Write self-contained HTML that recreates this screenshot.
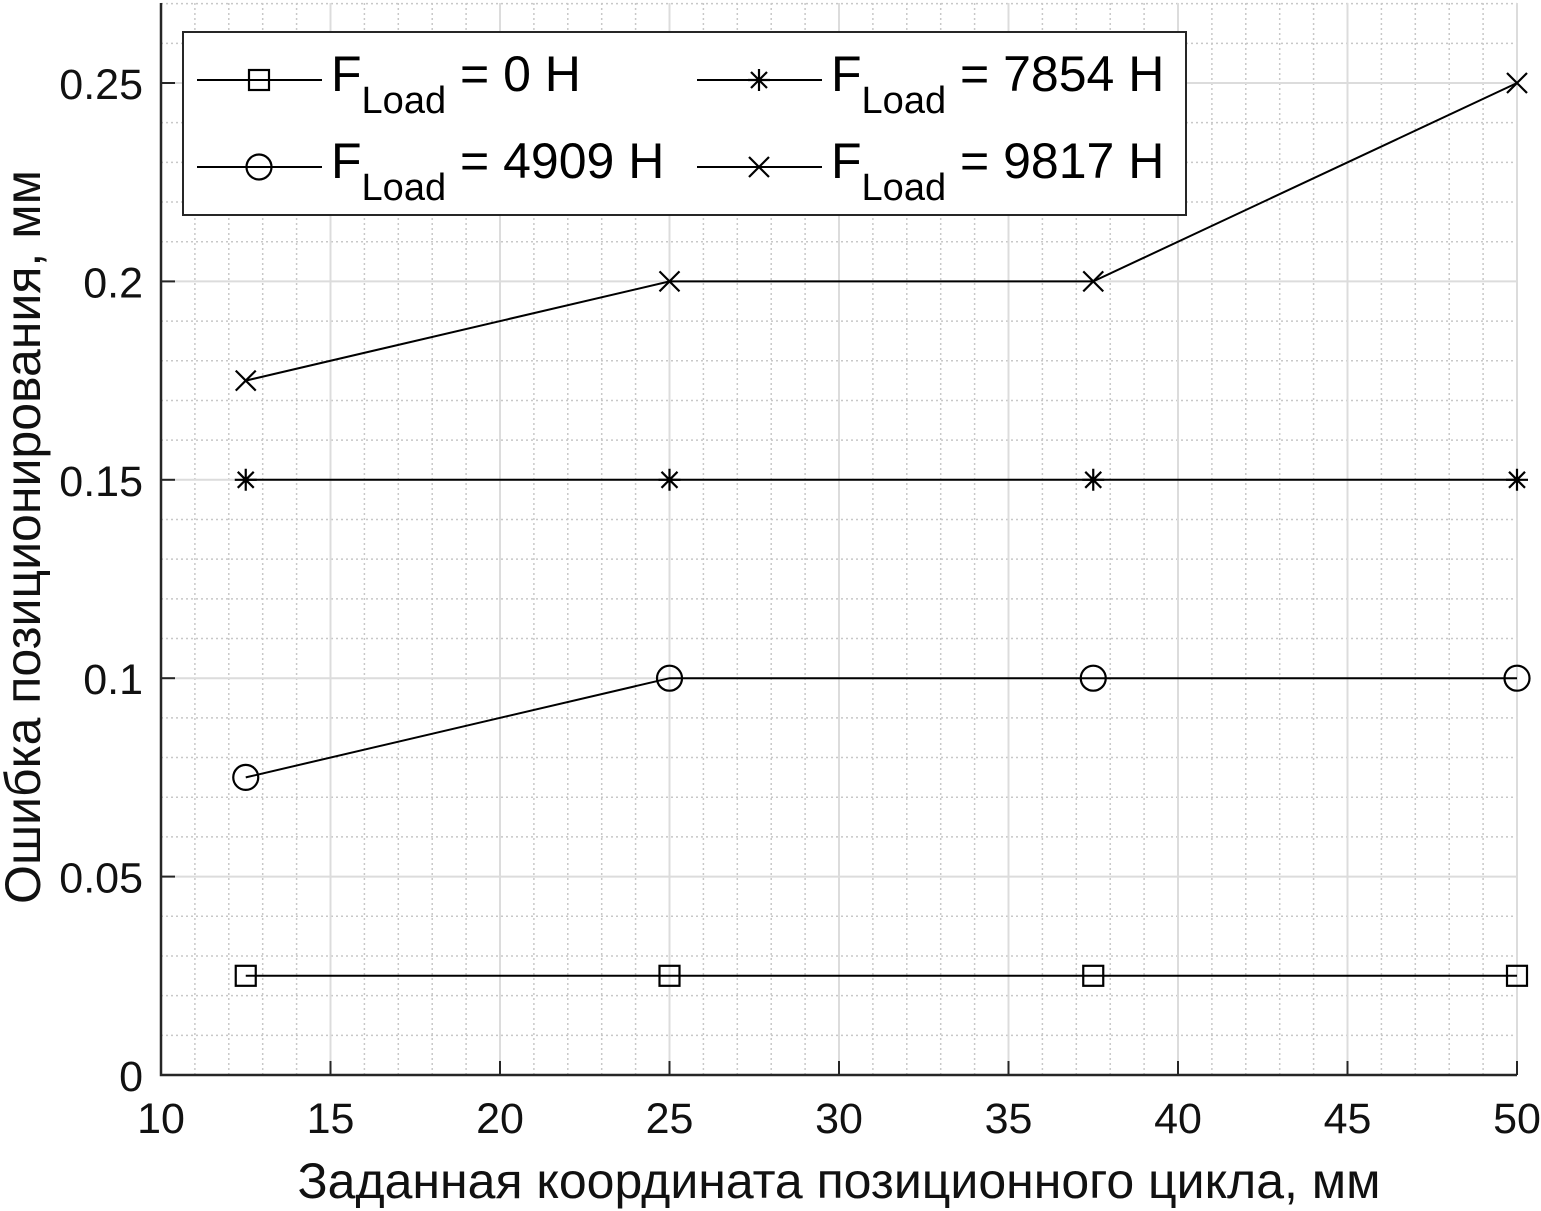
<!DOCTYPE html>
<html><head><meta charset="utf-8"><style>
html,body{margin:0;padding:0;background:#fff;}
svg{display:block;font-family:"Liberation Sans",Arial,sans-serif;}
</style></head><body>
<svg id="chart" width="1541" height="1211" viewBox="0 0 1541 1211">
<g id="grid"></g>
<g id="axes"></g>
<g id="series"></g>
<g id="legend"></g>
<text x="839" y="1198" font-size="50" text-anchor="middle" fill="#111">Заданная координата позиционного цикла, мм</text>
<text transform="translate(40,537) rotate(-90)" font-size="50" text-anchor="middle" fill="#111">Ошибка позиционирования, мм</text>
</svg>
<script>
const xValues = [12.5, 25, 37.5, 50];
const s0 = [0.025, 0.025, 0.025, 0.025];
const s4909 = [0.075, 0.1, 0.1, 0.1];
const s7854 = [0.15, 0.15, 0.15, 0.15];
const s9817 = [0.175, 0.2, 0.2, 0.25];
const xTicks = [10, 15, 20, 25, 30, 35, 40, 45, 50];
const yTicks = [0, 0.05, 0.1, 0.15, 0.2, 0.25];
const yTickLabels = ["0", "0.05", "0.1", "0.15", "0.2", "0.25"];
const legendLabels = ["0 H", "7854 H", "4909 H", "9817 H"];

const NS = "http://www.w3.org/2000/svg";
const X0 = 161, X1 = 1517, Y0 = 1075, YTOP = 3;
const xMin = 10, xMax = 50, yMin = 0, yMax = 0.27;
const sx = v => X0 + (v - xMin) / (xMax - xMin) * (X1 - X0);
const sy = v => Y0 - (v - yMin) / 0.25 * (Y0 - 83);
function mk(tag, attrs, parent) {
  const e = document.createElementNS(NS, tag);
  for (const k in attrs) e.setAttribute(k, attrs[k]);
  parent.appendChild(e);
  return e;
}
const grid = document.getElementById('grid');
const axes = document.getElementById('axes');
const series = document.getElementById('series');
const legend = document.getElementById('legend');

for (let v = xMin + 1; v <= xMax; v += 1) {
  if (v % 5 === 0) continue;
  const l = mk('line', {x1: sx(v), x2: sx(v), y1: YTOP, y2: Y0, stroke: '#c8c8c8', 'stroke-width': 1.5, 'stroke-dasharray': '2 3'}, grid);
  
  
}
for (let i = 1; i <= 27; i++) {
  const v = i * 0.01;
  if (i % 5 === 0) continue;
  const l = mk('line', {x1: X0, x2: X1, y1: sy(v), y2: sy(v), stroke: '#c8c8c8', 'stroke-width': 1.5, 'stroke-dasharray': '2 3'}, grid);
  
  
}
xTicks.forEach(v => {
  const l = mk('line', {x1: sx(v), x2: sx(v), y1: YTOP, y2: Y0, stroke: '#dcdcdc', 'stroke-width': 2}, grid);
  
  
  const tk = mk('line', {x1: sx(v), x2: sx(v), y1: Y0, y2: Y0 - 14, stroke: '#262626', 'stroke-width': 2}, axes);
  
  
  const t = mk('text', {x: sx(v), y: 1133, 'font-size': 43, 'text-anchor': 'middle', fill: '#111'}, axes);
  t.textContent = v;
  
  
});
yTicks.forEach((v, i) => {
  const l = mk('line', {x1: X0, x2: X1, y1: sy(v), y2: sy(v), stroke: '#dcdcdc', 'stroke-width': 2}, grid);
  
  
  const tk = mk('line', {x1: X0, x2: X0 + 14, y1: sy(v), y2: sy(v), stroke: '#262626', 'stroke-width': 2}, axes);
  
  
  const t = mk('text', {x: 143, y: sy(v) + 16, 'font-size': 43, 'text-anchor': 'end', fill: '#111'}, axes);
  t.textContent = yTickLabels[i];
  
  
});
const ax = mk('path', {d: `M${X0},${YTOP} V${Y0} H${X1}`, fill: 'none', stroke: '#262626', 'stroke-width': 2.5}, axes);



function marker(type, x, y, parent) {
  let e;
  if (type === 'square') e = mk('rect', {x: x - 10, y: y - 10, width: 20, height: 20, fill: 'none', stroke: '#000', 'stroke-width': 2.2}, parent);
  else if (type === 'circle') e = mk('circle', {cx: x, cy: y, r: 12.5, fill: 'none', stroke: '#000', 'stroke-width': 2.2}, parent);
  else if (type === 'cross') e = mk('path', {d: `M${x-10},${y-10}L${x+10},${y+10}M${x-10},${y+10}L${x+10},${y-10}`, stroke: '#000', 'stroke-width': 2.2}, parent);
  else e = mk('path', {d: `M${x-11},${y}H${x+11}M${x},${y-11}V${y+11}M${x-8},${y-8}L${x+8},${y+8}M${x-8},${y+8}L${x+8},${y-8}`, stroke: '#000', 'stroke-width': 2.2}, parent);
  
  
}
const defs = [[s0, 'square'], [s4909, 'circle'], [s7854, 'star'], [s9817, 'cross']];
defs.forEach(([vals, type]) => {
  const g = mk('g', {}, series);
  
  
  const d = vals.map((v, i) => (i ? 'L' : 'M') + sx(xValues[i]) + ',' + sy(v)).join('');
  const p = mk('path', {d: d, fill: 'none', stroke: '#000', 'stroke-width': 2}, g);
  
  
  vals.forEach((v, i) => marker(type, sx(xValues[i]), sy(v), g));
});

const box = mk('rect', {x: 183, y: 32, width: 1003, height: 183, fill: '#fff', stroke: '#262626', 'stroke-width': 2}, legend);


const legTypes = ['square', 'star', 'circle', 'cross'];
legendLabels.forEach((lab, i) => {
  const col = i % 2, row = Math.floor(i / 2);
  const lx = col ? 697 : 197, ly = row ? 167 : 80;
  const g = mk('g', {}, legend);
  
  
  const l = mk('line', {x1: lx, x2: lx + 125, y1: ly, y2: ly, stroke: '#000', 'stroke-width': 2}, g);
  
  
  marker(legTypes[i], lx + 62, ly, g);
  const t = mk('text', {x: lx + 134, y: ly + 11, 'font-size': 50, fill: '#000'}, g);
  
  
  const a = document.createElementNS(NS, 'tspan'); a.textContent = 'F'; t.appendChild(a);
  const b = document.createElementNS(NS, 'tspan'); b.setAttribute('font-size', '38'); b.setAttribute('dy', '22'); b.textContent = 'Load'; t.appendChild(b);
  const c = document.createElementNS(NS, 'tspan'); c.setAttribute('dy', '-22'); c.textContent = ' = ' + lab; t.appendChild(c);
});
</script>
</body></html>
